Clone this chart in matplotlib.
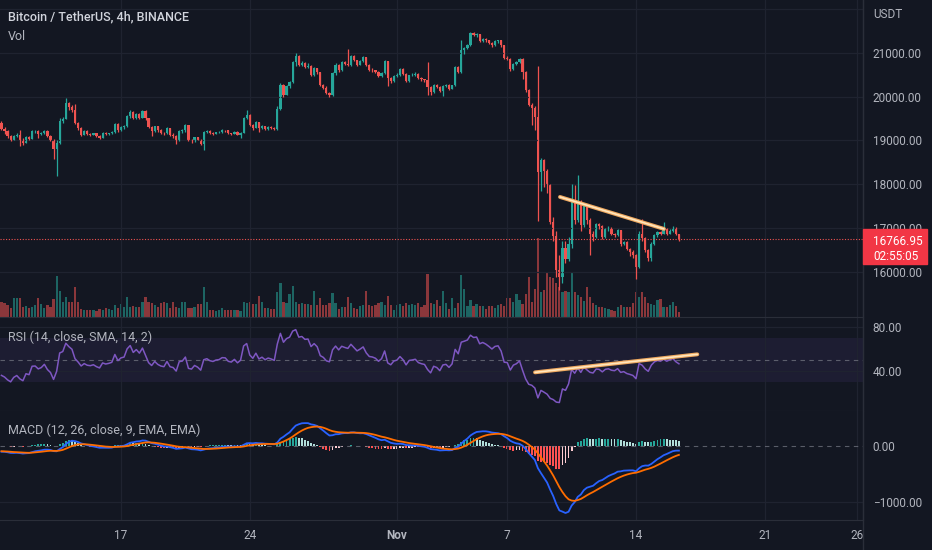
import numpy as np
import pandas as pd
import matplotlib
matplotlib.use('Agg')
import matplotlib.pyplot as plt
import matplotlib.dates as mdates
from matplotlib.patches import Rectangle
from matplotlib.lines import Line2D
from matplotlib.transforms import IdentityTransform

# BTCUSDT 4h candles, 2022-10-10 12:00 .. 2022-11-16 08:00 (one row per day)
first_open = 19400
close = [
    19270, 19210, 19100,
    19020, 19100, 19135, 19020, 18950, 19075,
    19045, 19210, 19215, 19140, 19165, 19225,
    19100, 19020, 18800, 18950, 19450, 19500,
    19850, 19760, 19690, 19400, 19285, 19135,
    19210, 19150, 19135, 19160, 19100, 19060,
    19180, 19150, 19165, 19188, 19376, 19230,
    19300, 19320, 19550, 19660, 19510, 19600,
    19520, 19680, 19510, 19300, 19210, 19320,
    19230, 19180, 19160, 19285, 19135, 19110,
    19000, 19225, 19240, 19346, 19010, 18985,
    19075, 19022, 18925, 19195, 19225, 19170,
    19150, 19185, 19195, 19240, 19235, 19165,
    19150, 19200, 19135, 19180, 19510, 19585,
    19360, 19285, 19420, 19285, 19330, 19270,
    19310, 19290, 19260, 19720, 20263, 20037,
    20248, 20338, 20790, 20925, 20714, 20760,
    20680, 20700, 20490, 20640, 20550, 20263,
    20200, 20075, 20040, 20526, 20727, 20598,
    20788, 20750, 20720, 20925, 20826, 20727,
    20803, 20900, 20727, 20613, 20598, 20560,
    20470, 20545, 20803, 20420, 20348, 20470,
    20500, 20621, 20522, 20348, 20485, 20500,
    20522, 20424, 20390, 20370, 20219, 20106,
    20257, 20219, 20121, 20250, 20265, 20181,
    20257, 20674, 20560, 21053, 21106, 21167,
    21450, 21394, 21420, 21258, 21318, 21280,
    21227, 21167, 21258, 21280, 21167, 20875,
    20864, 20621, 20750, 20788, 20864, 20550,
    20150, 19810, 19735, 19526, 18280, 18550,
    18300, 17990, 17150, 16830, 16050, 15900,
    16560, 16300, 16650, 17630, 17180, 17600,
    17070, 17520, 17180, 16880, 16800, 17100,
    17060, 16800, 16975, 17010, 16880, 16840,
    16955, 16650, 16690, 16540, 16470, 16390,
    16130, 16880, 16770, 16500, 16320, 16650,
    16840, 16920, 16880, 16990, 16880, 16950,
    17015, 16865, 16766.95,
]
high = [
    19440, 19300, 19230,
    19120, 19130, 19180, 19240, 19060, 19100,
    19110, 19230, 19240, 19230, 19190, 19250,
    19240, 19120, 19040, 19000, 19520, 19540,
    19960, 19870, 19800, 19820, 19420, 19300,
    19240, 19230, 19180, 19180, 19170, 19120,
    19200, 19200, 19180, 19210, 19400, 19390,
    19320, 19350, 19580, 19690, 19670, 19630,
    19620, 19700, 19690, 19520, 19320, 19340,
    19330, 19260, 19200, 19300, 19290, 19160,
    19130, 19240, 19270, 19370, 19350, 19030,
    19090, 19090, 19040, 19210, 19250, 19230,
    19185, 19200, 19210, 19260, 19250, 19240,
    19180, 19210, 19210, 19200, 19530, 19700,
    19600, 19380, 19440, 19430, 19350, 19340,
    19330, 19330, 19300, 19780, 20300, 20280,
    20270, 20360, 20820, 21000, 20950, 20800,
    20780, 20760, 20720, 20680, 20660, 20570,
    20290, 20230, 20100, 20560, 20760, 20740,
    20810, 20800, 21075, 20940, 20940, 20840,
    20830, 20920, 20910, 20740, 20640, 20610,
    20580, 20560, 20830, 20810, 20440, 20490,
    20530, 20650, 20660, 20540, 20500, 20530,
    20560, 20540, 20440, 20410, 20780, 20250,
    20280, 20290, 20240, 20270, 20290, 20280,
    20270, 20700, 20690, 21300, 21130, 21200,
    21480, 21470, 21440, 21430, 21340, 21340,
    21300, 21250, 21280, 21300, 21290, 21180,
    20920, 20880, 20770, 20810, 20890, 20880,
    20580, 20180, 19850, 19780, 20700, 18600,
    18580, 18350, 18020, 17250, 16950, 16400,
    16700, 16700, 16800, 18000, 17990, 18210,
    17650, 17560, 17550, 17230, 16950, 17120,
    17130, 17080, 17000, 17060, 17030, 16900,
    16980, 16970, 16720, 16700, 16560, 16500,
    16410, 16950, 17220, 16800, 16520, 16680,
    16870, 16950, 16950, 17140, 17010, 16990,
    17050, 17030, 16880,
]
low = [
    19230, 19150, 19060,
    18980, 19000, 19080, 18880, 18900, 18940,
    19000, 19030, 19160, 19060, 19120, 19150,
    19080, 18990, 18570, 18190, 18930, 19400,
    19480, 19700, 19640, 19380, 19240, 19100,
    19120, 19130, 19100, 19120, 19080, 19030,
    19050, 19130, 19130, 19150, 19170, 19200,
    19210, 19270, 19300, 19520, 19480, 19500,
    19490, 19510, 19470, 19280, 19100, 19200,
    19200, 19150, 19120, 19140, 19110, 19050,
    18930, 18990, 19180, 19200, 18990, 18950,
    18970, 19000, 18900, 18780, 19170, 19150,
    19130, 19140, 19170, 19180, 19200, 19150,
    19130, 19140, 19120, 19060, 19170, 19480,
    19340, 19250, 19280, 19200, 19270, 19250,
    19250, 19260, 19230, 19250, 19700, 20000,
    20030, 20200, 20320, 20700, 20690, 20700,
    20650, 20640, 20460, 20470, 20520, 20240,
    20170, 20050, 19990, 20020, 20500, 20570,
    20580, 20720, 20690, 20700, 20800, 20700,
    20710, 20780, 20700, 20590, 20570, 20530,
    20440, 20450, 20520, 20250, 20300, 20330,
    20440, 20480, 20500, 20330, 20340, 20460,
    20480, 20400, 20360, 20340, 20030, 20030,
    20090, 20190, 20100, 20015, 20220, 20160,
    20170, 20240, 20540, 20540, 20980, 21090,
    21150, 21370, 21360, 21240, 21250, 21250,
    21200, 21140, 21150, 21220, 21140, 20850,
    20830, 20590, 20600, 20720, 20760, 20400,
    20100, 19780, 19350, 19250, 17170, 17850,
    17950, 17800, 17100, 16700, 15880, 15600,
    15750, 16200, 16250, 16550, 17100, 17150,
    16950, 17040, 17100, 16390, 16700, 16770,
    16980, 16750, 16780, 16950, 16850, 16800,
    16820, 16600, 16620, 16500, 16380, 16320,
    15850, 16100, 16700, 16450, 16250, 16250,
    16620, 16800, 16840, 16860, 16850, 16860,
    16920, 16840, 16720,
]
# volume, thousand BTC
volume = [
    15, 14, 12,
    9, 19, 19, 19, 10, 11,
    9, 10, 12, 19, 13, 9,
    12, 10, 18, 41, 26, 15,
    20, 15, 15, 30, 15, 8,
    7, 7, 7, 7, 6, 8,
    7, 9, 8, 7, 12, 9,
    13, 10, 20, 10, 11, 10,
    10, 15, 20, 15, 14, 12,
    10, 14, 15, 14, 9, 15,
    10, 9, 15, 15, 9, 9,
    10, 13, 13, 30, 15, 7,
    7, 6, 7, 9, 7, 7,
    7, 7, 7, 6, 15, 14,
    15, 13, 13, 21, 15, 9,
    9, 8, 8, 25, 34, 15,
    14, 23, 31, 15, 13, 14,
    13, 13, 12, 26, 12, 19,
    12, 12, 14, 24, 14, 8,
    10, 10, 20, 14, 9, 8,
    11, 12, 26, 12, 11, 12,
    14, 15, 12, 21, 12, 7,
    12, 13, 11, 14, 12, 13,
    12, 14, 10, 12, 43, 14,
    13, 17, 11, 26, 14, 8,
    19, 9, 14, 42, 28, 11,
    17, 11, 13, 11, 11, 8,
    11, 11, 9, 12, 13, 11,
    19, 19, 15, 23, 17, 13,
    23, 40, 15, 28, 79, 25,
    27, 44, 40, 39, 34, 30,
    25, 26, 25, 44, 25, 22,
    20, 16, 30, 20, 14, 12,
    10, 10, 9, 8, 7, 6,
    10, 12, 10, 10, 10, 14,
    25, 20, 25, 20, 14, 13,
    12, 17, 18, 10, 10, 12,
    15, 11, 5,
]
start_time = '2022-10-10 12:00'
price_label = '16766.95'
countdown = '02:55:05'

# indicator state carried in from candles before the window
rsi_seed_gain, rsi_seed_loss = 40.0, 62.0
ema_fast_seed, ema_slow_seed, signal_seed = 19330.0, 19440.0, -95.0

# drawn trend lines
trend_price_t = ['2022-11-09 20:50', '2022-11-15 12:30']
trend_price_y = [17714, 16986]
trend_rsi_t = ['2022-11-08 12:15', '2022-11-17 08:00']
trend_rsi_y = [38.5, 55.1]

tick_dates = ['2022-10-17', '2022-10-24', '2022-11-01', '2022-11-07',
              '2022-11-14', '2022-11-21', '2022-11-26']
tick_labels = ['17', '24', 'Nov', '7', '14', '21', '26']

BG = '#131722'
GRID = '#1f2330'
BORDER = '#2a2e39'
TXT = '#b2b5be'
UP = '#26a69a'
DOWN = '#ef5350'

plt.rcParams['font.family'] = ['Roboto', 'DejaVu Sans']

close = np.array(close, dtype=float)
high = np.array(high, dtype=float)
low = np.array(low, dtype=float)
volume = np.array(volume, dtype=float)
opens = np.concatenate([[first_open], close[:-1]])
t = mdates.date2num(pd.date_range(start_time, periods=len(close), freq='4h'))
rising = close >= opens
colors = np.where(rising, UP, DOWN)

# RSI 14 (Wilder)
rsi = []
ag, al = rsi_seed_gain, rsi_seed_loss
prev = first_open
for c in close:
    d = c - prev
    ag = (ag * 13 + max(d, 0)) / 14
    al = (al * 13 + max(-d, 0)) / 14
    rsi.append(100 - 100 / (1 + ag / al))
    prev = c
rsi = np.array(rsi)

# MACD 12/26/9
macd, signal = [], []
ef, es, sg = ema_fast_seed, ema_slow_seed, signal_seed
for c in close:
    ef += (c - ef) * 2 / 13
    es += (c - es) * 2 / 27
    m = ef - es
    sg += (m - sg) * 2 / 10
    macd.append(m)
    signal.append(sg)
macd = np.array(macd)
signal = np.array(signal)
hist = macd - signal
hist_colors = []
for k, h in enumerate(hist):
    up = k == 0 or h > hist[k - 1]
    if h >= 0:
        hist_colors.append('#26a69a' if up else '#b2dfdb')
    else:
        hist_colors.append('#ffcdd2' if up else '#ff5252')

fig = plt.figure(figsize=(9.32, 5.5), dpi=100, facecolor=BG)
W = 863 / 932
ax = fig.add_axes([0, 233 / 550, W, 317 / 550])
ax_r = fig.add_axes([0, 138.7 / 550, W, 94.3 / 550], sharex=ax)
ax_m = fig.add_axes([0, 30.5 / 550, W, 108.2 / 550], sharex=ax)

ax_v = ax.twinx()
ax.set_zorder(ax_v.get_zorder() + 1)
ax.patch.set_visible(False)
ax_v.patch.set_visible(True)
ax_v.patch.set_facecolor(BG)
ax_v.bar(t, volume, width=0.12, color=colors, alpha=0.55, linewidth=0)
ax_v.set_ylim(0, 317)
ax_v.set_yticks([])
for s in ax_v.spines.values():
    s.set_visible(False)

for a in (ax, ax_r, ax_m):
    a.set_facecolor(BG)
    for name, s in a.spines.items():
        s.set_visible(name in ('bottom', 'right'))
        s.set_color(BORDER)
    a.yaxis.tick_right()
    a.tick_params(length=0, colors=TXT, labelsize=8.5)
    a.tick_params(axis='y', pad=7)
    a.grid(axis='x', color=GRID, lw=0.9)

ax.set_xticks(mdates.date2num(pd.to_datetime(tick_dates)))
ax_m.set_xticklabels(tick_labels)
ax.tick_params(labelbottom=False)
ax_r.tick_params(labelbottom=False)
ax_m.tick_params(axis='x', pad=7)
ax_m.get_xticklabels()[2].set_fontweight('bold')
ax.set_xlim(mdates.date2num(pd.Timestamp('2022-10-10 10:07')),
            mdates.date2num(pd.Timestamp('2022-11-26 08:12')))

# price panel
ax.set_ylim(14980, 22200)
ax.set_yticks(np.arange(16000, 21001, 1000))
ax.set_yticklabels([f'{v:.2f}' for v in np.arange(16000, 21001, 1000)])
ax.grid(axis='y', color=GRID, lw=0.9)
ax.axhline(22000, color=GRID, lw=0.9)
ax.vlines(t, low, high, colors=colors, lw=0.9)
body = np.maximum(np.abs(close - opens), 15)
ax.bar(t, body, bottom=np.minimum(close, opens), width=0.12,
       color=colors, linewidth=0)
ax.axhline(close[-1], color=DOWN, lw=0.8, ls=(0, (1, 1.5)))
tp = mdates.date2num(pd.to_datetime(trend_price_t))
ax.plot(tp, trend_price_y, color='#f0a960', lw=2.8, solid_capstyle='round')
ax.plot(tp, trend_price_y, color='#ffe6bd', lw=1.2, solid_capstyle='round')

# RSI panel
ax_r.set_ylim(2.6, 89.5)
ax_r.axhspan(30, 70, color='#7e57c2', alpha=0.1, lw=0)
ax_r.set_yticks([40, 80])
ax_r.set_yticklabels(['40.00', '80.00'])
ax_r.grid(axis='y', color=GRID, lw=0.9)
ax_r.axhline(50, color='#787b86', lw=0.8, ls=(0, (4, 4)), alpha=0.7)
ax_r.plot(t, rsi, color='#7e57c2', lw=1.1)
tr = mdates.date2num(pd.to_datetime(trend_rsi_t))
ax_r.plot(tr, trend_rsi_y, color='#f0a960', lw=2.8, solid_capstyle='round')
ax_r.plot(tr, trend_rsi_y, color='#ffe6bd', lw=1.2, solid_capstyle='round')

# MACD panel
ax_m.set_ylim(-1304, 608)
ax_m.set_yticks([0, -1000])
ax_m.set_yticklabels(['0.00', '\u22121000.00'])
ax_m.axhline(-1000, color=GRID, lw=0.9)
ax_m.axhline(0, color='#787b86', lw=0.8, ls=(0, (4, 4)), alpha=0.7)
ax_m.bar(t, hist, width=0.1, color=hist_colors, linewidth=0)
ax_m.plot(t, macd, color='#2962ff', lw=1.3)
ax_m.plot(t, signal, color='#ff6d00', lw=1.3)

# labels
fig.text(8 / 932, 1 - 17 / 550, 'Bitcoin / TetherUS, 4h, BINANCE',
         color='#d1d4dc', fontsize=9, fontweight='medium', va='center')
fig.text(8 / 932, 1 - 37 / 550, 'Vol', color=TXT, fontsize=9, va='center')
fig.text(8 / 932, 1 - 337 / 550, 'RSI (14, close, SMA, 14, 2)',
         color=TXT, fontsize=9, va='center')
fig.text(8 / 932, 1 - 430 / 550, 'MACD (12, 26, close, 9, EMA, EMA)',
         color=TXT, fontsize=9, va='center')
fig.text(873 / 932, 1 - 15 / 550, 'USDT', color=TXT, fontsize=8.5, va='center')
fig.add_artist(Line2D([W, W], [0, 1], transform=fig.transFigure,
                      color=BORDER, lw=1))

# last price tag (covers the 17000 tick label as in the original)
y_disp = ax.transData.transform((t[-1], close[-1]))[1]
fig.add_artist(Rectangle((W * 932, y_disp - 25.3), 64, 35,
                         transform=IdentityTransform(), color='#f23645',
                         zorder=5))
fig.text(873 / 932, (y_disp - 3) / 550, price_label, color='white',
         fontsize=8.5, va='center', zorder=6)
fig.text(873 / 932, (y_disp - 17.5) / 550, countdown, color='white',
         fontsize=8.5, va='center', zorder=6)

fig.savefig('out.png', dpi=100, facecolor=BG)
